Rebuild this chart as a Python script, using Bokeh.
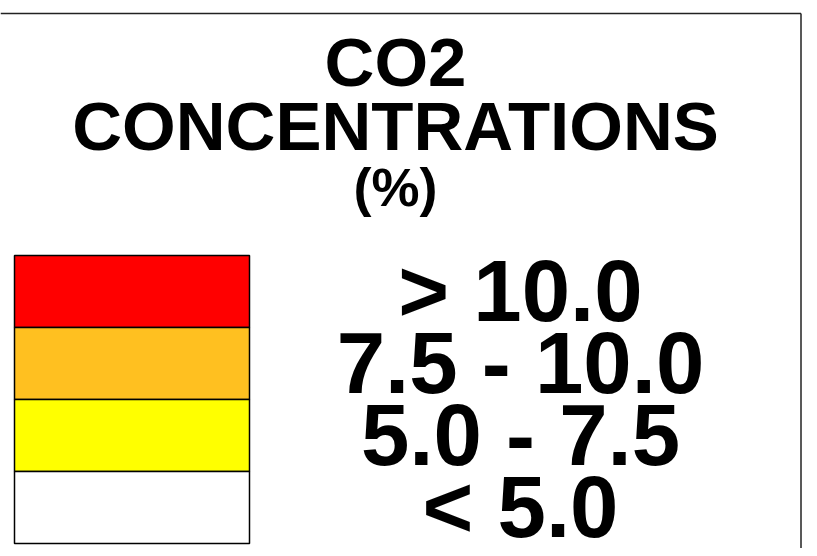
from bokeh.plotting import figure
from bokeh.models import Range1d, ColumnDataSource
from bokeh.core.properties import value
from bokeh.embed import file_html
from bokeh.resources import INLINE

# ---- data ----
title_lines = ["CO2", "CONCENTRATIONS", "(%)"]
class_labels = ["> 10.0", "7.5 - 10.0", "5.0 - 7.5", "< 5.0"]
class_colors = ["#FF0000", "#FFC020", "#FFFF00", "#FFFFFF"]

# ---- layout (pixel coordinates of the view) ----
W, H = 809, 548
FONT = value("Liberation Sans")

p = figure(width=W, height=H, output_backend="svg", toolbar_location=None,
           x_range=Range1d(0, W), y_range=Range1d(H, 0),
           min_border=0, outline_line_color=None)
p.axis.visible = False
p.grid.visible = False
p.background_fill_color = "white"
p.border_fill_color = "white"

# frame (top and right edges visible in this view)
p.line(x=[0, 800.5], y=[13, 13], line_color="#222222", line_width=1.5)
p.line(x=[800.5, 800.5], y=[13, H], line_color="#222222", line_width=1.5)

# title
title_size = [69, 69, 54]
title_mid = [62, 125.5, 186]
p.text(x=[395] * 3, y=title_mid, text=title_lines,
       text_font=FONT, text_font_style="bold",
       text_font_size=[f"{s}px" for s in title_size],
       text_align="center", text_baseline="middle", text_color="black")

# colour boxes
box_left, box_right, box_top0, box_h = 14, 249, 255, 72
n = len(class_labels)
tops = [box_top0 + i * box_h for i in range(n)]
bottoms = [t + box_h for t in tops]
src = ColumnDataSource(dict(top=tops, bottom=bottoms, color=class_colors,
                            label=class_labels,
                            ty=[t + box_h / 2 - 1 for t in tops], tx=[520] * n))
p.quad(left=box_left, right=box_right, top="top", bottom="bottom",
       fill_color="color", line_color="black", line_width=1.5, source=src)
p.text(x="tx", y="ty", text="label", source=src,
       text_font=FONT, text_font_style="bold", text_font_size="87px",
       text_align="center", text_baseline="middle", text_color="black")

open("out.html", "w").write(file_html(p, INLINE))
